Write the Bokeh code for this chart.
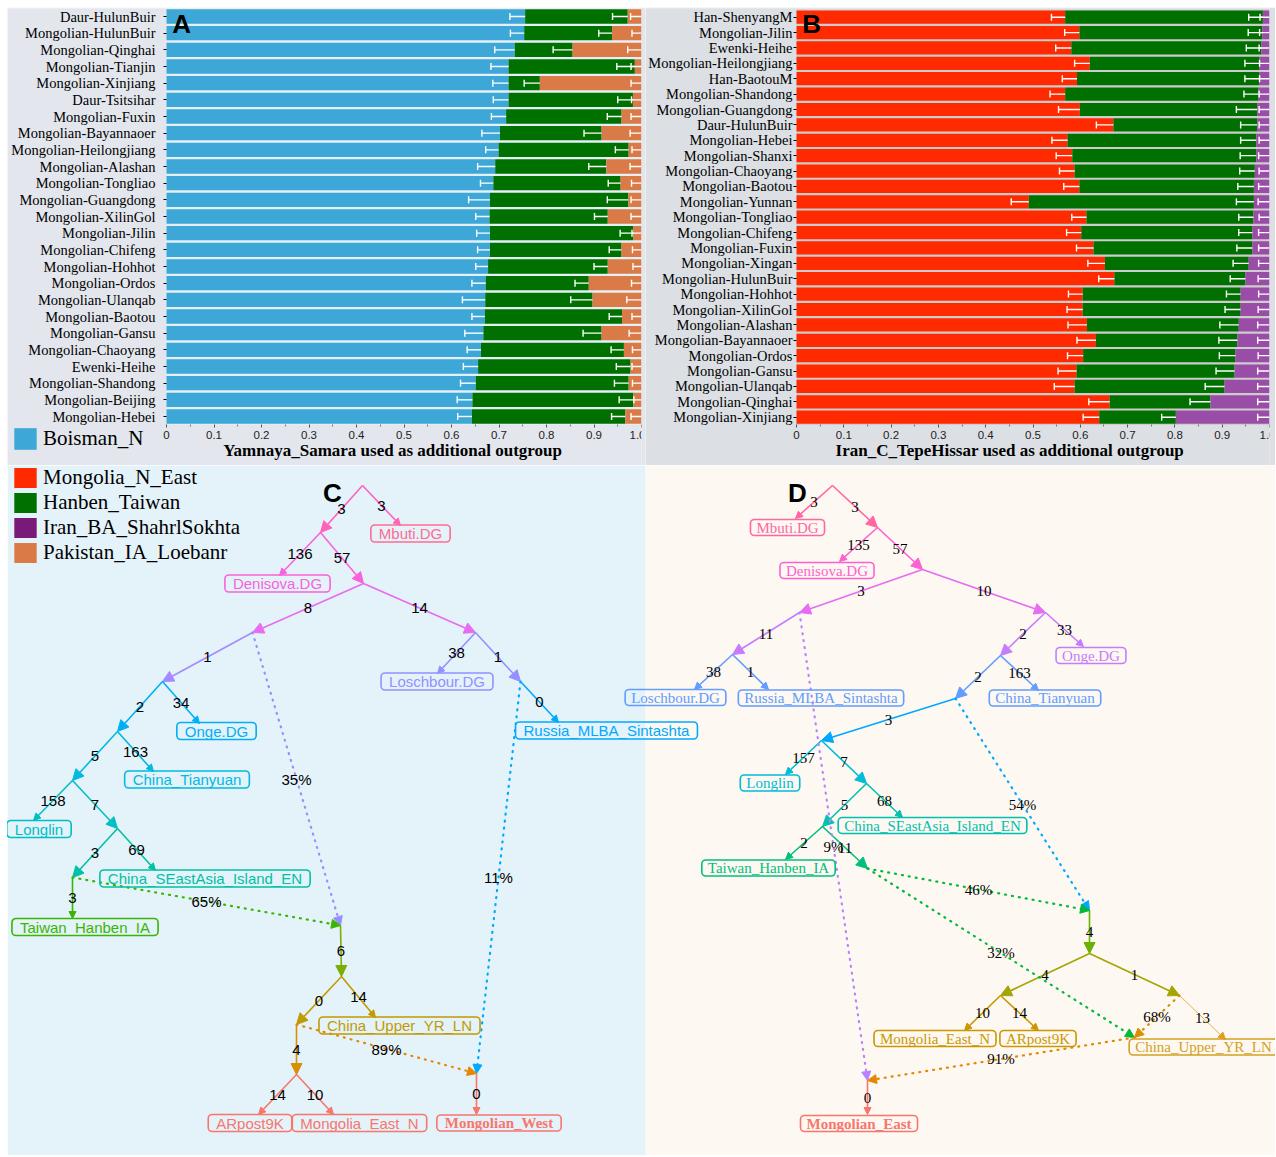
import numpy as np
from bokeh.plotting import figure
from bokeh.models import (ColumnDataSource, Range1d, FixedTicker, Legend,
                          LegendItem, Label, Arrow, NormalHead)
from bokeh.layouts import column, row
from bokeh.embed import file_html
from bokeh.resources import INLINE
from bokeh.core.properties import value

# ---------------- Panel A data (Yamnaya_Samara as extra outgroup) ----------------
popsA = ["Daur-HulunBuir", "Mongolian-HulunBuir", "Mongolian-Qinghai", "Mongolian-Tianjin",
         "Mongolian-Xinjiang", "Daur-Tsitsihar", "Mongolian-Fuxin", "Mongolian-Bayannaoer",
         "Mongolian-Heilongjiang", "Mongolian-Alashan", "Mongolian-Tongliao", "Mongolian-Guangdong",
         "Mongolian-XilinGol", "Mongolian-Jilin", "Mongolian-Chifeng", "Mongolian-Hohhot",
         "Mongolian-Ordos", "Mongolian-Ulanqab", "Mongolian-Baotou", "Mongolian-Gansu",
         "Mongolian-Chaoyang", "Ewenki-Heihe", "Mongolian-Shandong", "Mongolian-Beijing",
         "Mongolian-Hebei"]
boismanA = [0.755, 0.753, 0.733, 0.720, 0.720, 0.720, 0.715, 0.702, 0.699, 0.692, 0.688, 0.681,
            0.680, 0.681, 0.681, 0.677, 0.672, 0.671, 0.670, 0.667, 0.662, 0.656, 0.651, 0.644, 0.643]
hanbenA = [0.216, 0.185, 0.122, 0.266, 0.066, 0.262, 0.243, 0.214, 0.274, 0.234, 0.268, 0.291,
           0.249, 0.302, 0.277, 0.252, 0.217, 0.226, 0.289, 0.249, 0.301, 0.321, 0.322, 0.339, 0.323]
pakistanA = [0.029, 0.062, 0.145, 0.014, 0.214, 0.018, 0.042, 0.084, 0.027, 0.074, 0.044, 0.028,
             0.071, 0.017, 0.042, 0.071, 0.111, 0.103, 0.041, 0.084, 0.037, 0.023, 0.027, 0.017, 0.034]
seA1 = [0.032, 0.029, 0.042, 0.037, 0.033, 0.032, 0.031, 0.038, 0.027, 0.037, 0.027, 0.045, 0.029,
        0.028, 0.026, 0.026, 0.029, 0.048, 0.027, 0.039, 0.029, 0.031, 0.032, 0.032, 0.030]
seA2 = [0.032, 0.028, 0.041, 0.038, 0.033, 0.032, 0.030, 0.037, 0.028, 0.037, 0.026, 0.044, 0.028,
        0.028, 0.026, 0.029, 0.029, 0.046, 0.027, 0.039, 0.027, 0.030, 0.030, 0.030, 0.029]
seA3 = [0.023, 0.020, 0.029, 0.022, 0.022, 0.021, 0.022, 0.024, 0.020, 0.024, 0.021, 0.022, 0.022,
        0.020, 0.019, 0.018, 0.021, 0.031, 0.020, 0.026, 0.019, 0.020, 0.019, 0.016, 0.022]

# ---------------- Panel B data (Iran_C_TepeHissar as extra outgroup) ----------------
popsB = ["Han-ShenyangM", "Mongolian-Jilin", "Ewenki-Heihe", "Mongolian-Heilongjiang", "Han-BaotouM",
         "Mongolian-Shandong", "Mongolian-Guangdong", "Daur-HulunBuir", "Mongolian-Hebei",
         "Mongolian-Shanxi", "Mongolian-Chaoyang", "Mongolian-Baotou", "Mongolian-Yunnan",
         "Mongolian-Tongliao", "Mongolian-Chifeng", "Mongolian-Fuxin", "Mongolian-Xingan",
         "Mongolian-HulunBuir", "Mongolian-Hohhot", "Mongolian-XilinGol", "Mongolian-Alashan",
         "Mongolian-Bayannaoer", "Mongolian-Ordos", "Mongolian-Gansu", "Mongolian-Ulanqab",
         "Mongolian-Qinghai", "Mongolian-Xinjiang"]
mongoliaB = [0.568, 0.598, 0.581, 0.620, 0.593, 0.568, 0.599, 0.670, 0.573, 0.583, 0.588, 0.598, 0.491,
             0.613, 0.602, 0.628, 0.652, 0.672, 0.605, 0.605, 0.614, 0.633, 0.606, 0.592, 0.588, 0.662, 0.640]
hanbenB = [0.418, 0.387, 0.402, 0.359, 0.386, 0.409, 0.375, 0.304, 0.399, 0.389, 0.381, 0.369, 0.476,
           0.353, 0.362, 0.336, 0.304, 0.277, 0.334, 0.334, 0.321, 0.299, 0.322, 0.334, 0.317, 0.213, 0.162]
iranB = [0.014, 0.015, 0.017, 0.021, 0.021, 0.023, 0.026, 0.026, 0.028, 0.028, 0.031, 0.033, 0.033,
         0.034, 0.036, 0.036, 0.044, 0.051, 0.061, 0.061, 0.065, 0.068, 0.072, 0.074, 0.095, 0.125, 0.198]
seB1 = [0.029, 0.031, 0.033, 0.032, 0.031, 0.032, 0.045, 0.036, 0.033, 0.034, 0.032, 0.033, 0.037,
        0.031, 0.031, 0.036, 0.036, 0.033, 0.030, 0.033, 0.040, 0.040, 0.033, 0.039, 0.043, 0.044, 0.034]
seB2 = [0.030, 0.030, 0.032, 0.031, 0.031, 0.031, 0.044, 0.035, 0.033, 0.034, 0.032, 0.034, 0.037,
        0.031, 0.029, 0.033, 0.033, 0.032, 0.030, 0.033, 0.040, 0.039, 0.034, 0.039, 0.041, 0.043, 0.030]
seB3 = [0.020, 0.021, 0.022, 0.021, 0.021, 0.022, 0.022, 0.022, 0.022, 0.023, 0.022, 0.023, 0.024,
        0.022, 0.023, 0.023, 0.023, 0.024, 0.023, 0.024, 0.025, 0.025, 0.024, 0.025, 0.025, 0.025, 0.025]

sources = ["Boisman_N", "Mongolia_N_East", "Hanben_Taiwan", "Iran_BA_ShahrlSokhta", "Pakistan_IA_Loebanr"]
titleA = "Yamnaya_Samara used as additional outgroup"
titleB = "Iran_C_TepeHissar used as additional outgroup"
x_ticks = [0, 0.1, 0.2, 0.3, 0.4, 0.5, 0.6, 0.7, 0.8, 0.9, 1.0]
x_minor = [0.05, 0.15, 0.25, 0.35, 0.45, 0.55, 0.65, 0.75, 0.85, 0.95]

# ---------------- qpGraph data ----------------
edgesC = [("R", "Mbuti.DG", 3), ("R", "N1", 3), ("N1", "Denisova.DG", 136), ("N1", "N2", 57),
          ("N2", "N3", 8), ("N2", "N4", 14), ("N4", "Loschbour.DG", 38), ("N4", "N5", 1),
          ("N5", "Russia_MLBA_Sintashta", 0), ("N3", "N6", 1), ("N6", "N7", 2), ("N6", "Onge.DG", 34),
          ("N7", "N8", 5), ("N7", "China_Tianyuan", 163), ("N8", "Longlin", 158), ("N8", "N9", 7),
          ("N9", "N10", 3), ("N9", "China_SEastAsia_Island_EN", 69), ("N10", "Taiwan_Hanben_IA", 3),
          ("A1", "A2", 6), ("A2", "A3", 0), ("A2", "China_Upper_YR_LN", 14), ("A3", "A4", 4),
          ("A4", "ARpost9K", 14), ("A4", "Mongolia_East_N", 10), ("MW", "Mongolian_West", 0)]
admixC = [("N3", "A1", "35%"), ("N10", "A1", "65%"), ("N5", "MW", "11%"), ("A3", "MW", "89%")]

edgesD = [("R", "Mbuti.DG", 3), ("R", "N1", 3), ("N1", "Denisova.DG", 135), ("N1", "N2", 57),
          ("N2", "N3", 3), ("N2", "N4", 10), ("N3", "N5", 11), ("N5", "Loschbour.DG", 38),
          ("N5", "Russia_MLBA_Sintashta", 1), ("N4", "Onge.DG", 33), ("N4", "N6", 2),
          ("N6", "China_Tianyuan", 163), ("N6", "N7", 2), ("N7", "N8", 3), ("N8", "Longlin", 157),
          ("N8", "N9", 7), ("N9", "China_SEastAsia_Island_EN", 68), ("N9", "N10", 5),
          ("N10", "Taiwan_Hanben_IA", 2), ("N10", "N11", 11), ("A1", "A2", 4), ("A2", "A3", 4),
          ("A2", "A4", 1), ("A3", "Mongolia_East_N", 10), ("A3", "ARpost9K", 14),
          ("A4", "China_Upper_YR_LN", 13), ("ME", "Mongolian_East", 0)]
admixD = [("N3", "ME", "9%"), ("N7", "A1", "54%"), ("N11", "A1", "46%"), ("N11", "A5", "32%"),
          ("A4", "A5", "68%"), ("A5", "ME", "91%")]
target_labels = ["Mongolian_West", "Mongolian_East"]

# ---------------- layout (page-pixel coordinates of the graph drawing) ----------------
posC = {"R": (362, 485), "N1": (320, 532), "N2": (363, 583), "N3": (252, 632), "N4": (475, 632),
        "N5": (520, 681), "N6": (162, 681), "N7": (117, 731), "N8": (72, 780), "N9": (117, 828),
        "N10": (72, 877), "A1": (340, 925), "A2": (341, 976), "A3": (296, 1024), "A4": (296, 1074),
        "MW": (476, 1073),
        "Mbuti.DG": (400, 525), "Denisova.DG": (279, 575), "Loschbour.DG": (437, 673),
        "Russia_MLBA_Sintashta": (558, 722), "Onge.DG": (199, 723), "China_Tianyuan": (153, 771),
        "Longlin": (33, 820), "China_SEastAsia_Island_EN": (155, 870), "Taiwan_Hanben_IA": (72, 918),
        "China_Upper_YR_LN": (375, 1017), "ARpost9K": (258, 1114), "Mongolia_East_N": (333, 1114),
        "Mongolian_West": (476, 1114)}
labC = {"Mbuti.DG": (410, 533), "Denisova.DG": (277, 583), "Loschbour.DG": (436.5, 681),
        "Russia_MLBA_Sintashta": (606, 730), "Onge.DG": (216, 730.5), "China_Tianyuan": (186.5, 779),
        "Longlin": (38.5, 828.5), "China_SEastAsia_Island_EN": (204.5, 878),
        "Taiwan_Hanben_IA": (84.5, 926.5), "China_Upper_YR_LN": (399, 1025),
        "ARpost9K": (249.5, 1122.5), "Mongolia_East_N": (359, 1122.5), "Mongolian_West": (498.5, 1122.5)}
colC = {"R": "#FF62BC", "N1": "#FA62DB", "N2": "#E76BF3", "N3": "#A58AFF", "N4": "#9590FF",
        "N5": "#00A9FF", "N6": "#00B0F6", "N7": "#00BAE0", "N8": "#00BFC4", "N9": "#00C1A3",
        "N10": "#39B600", "A1": "#7CAE00", "A2": "#C09B00", "A3": "#D89000", "A4": "#F8766D",
        "MW": "#F8766D",
        "Mbuti.DG": "#FF6C91", "Denisova.DG": "#FA62DB", "Loschbour.DG": "#9590FF",
        "Russia_MLBA_Sintashta": "#00A9FF", "Onge.DG": "#00B0F6", "China_Tianyuan": "#00BAE0",
        "Longlin": "#00BFC4", "China_SEastAsia_Island_EN": "#00C1A3", "Taiwan_Hanben_IA": "#39B600",
        "China_Upper_YR_LN": "#C09B00", "ARpost9K": "#F8766D", "Mongolia_East_N": "#F8766D",
        "Mongolian_West": "#F8766D"}
admixColC = {"N3": "#9590FF", "N10": "#39B600", "N5": "#00A9FF", "A3": "#E58700"}

posD = {"R": (832, 485), "N1": (877, 527), "N2": (922, 569), "N3": (799, 612), "N4": (1045, 612),
        "N5": (732, 654), "N6": (1000, 655), "N7": (955, 698), "N8": (821, 740), "N9": (866, 783),
        "N10": (822, 826), "N11": (867, 868), "A1": (1089, 910), "A2": (1089, 953), "A3": (1000, 995),
        "A4": (1179, 995), "A5": (1134, 1037), "ME": (867, 1080),
        "Mbuti.DG": (795, 518), "Denisova.DG": (839, 561), "Loschbour.DG": (694, 689),
        "Russia_MLBA_Sintashta": (768, 689), "Onge.DG": (1083, 646), "China_Tianyuan": (1038, 690),
        "Longlin": (785, 774), "China_SEastAsia_Island_EN": (902, 817), "Taiwan_Hanben_IA": (785, 859),
        "Mongolia_East_N": (964, 1030), "ARpost9K": (1038, 1030), "China_Upper_YR_LN": (1225, 1039),
        "Mongolian_East": (867, 1114)}
labD = {"Mbuti.DG": (787, 527), "Denisova.DG": (826.5, 570), "Loschbour.DG": (675, 697),
        "Russia_MLBA_Sintashta": (820.5, 697.5), "Onge.DG": (1090.5, 655), "China_Tianyuan": (1044.5, 697.5),
        "Longlin": (769.5, 782.5), "China_SEastAsia_Island_EN": (932, 825), "Taiwan_Hanben_IA": (768, 867.5),
        "Mongolia_East_N": (934.5, 1038), "ARpost9K": (1037.5, 1038), "China_Upper_YR_LN": (1203, 1046.5),
        "Mongolian_East": (858.5, 1123)}
colD = {"R": "#FF67A4", "N1": "#FD61D1", "N2": "#E76BF3", "N3": "#C77CFF", "N4": "#C77CFF",
        "N5": "#619CFF", "N6": "#619CFF", "N7": "#00A9FF", "N8": "#00BCD8", "N9": "#00C0AF",
        "N10": "#00BF7D", "N11": "#00BA38", "A1": "#6BB100", "A2": "#A3A500", "A3": "#C99800",
        "A4": "#DDA020", "A5": "#E58700", "ME": "#F8766D",
        "Mbuti.DG": "#FF67A4", "Denisova.DG": "#FD61D1", "Loschbour.DG": "#619CFF",
        "Russia_MLBA_Sintashta": "#619CFF", "Onge.DG": "#C77CFF", "China_Tianyuan": "#619CFF",
        "Longlin": "#00BCD8", "China_SEastAsia_Island_EN": "#00C0AF", "Taiwan_Hanben_IA": "#00BF7D",
        "Mongolia_East_N": "#C99800", "ARpost9K": "#C99800", "China_Upper_YR_LN": "#D4A020",
        "Mongolian_East": "#F8766D"}
admixColD = {"N3": "#B983FF", "N7": "#00A9FF", "N11": "#00BA38", "A4": "#DB8E00", "A5": "#E58700"}

BAR_COLORS = {"Boisman_N": "#3DA8D8", "Mongolia_N_East": "#FF2A00", "Hanben_Taiwan": "#007000",
              "Iran_BA_ShahrlSokhta": "#9A4DA6", "Pakistan_IA_Loebanr": "#DA7B47"}
LEG_COLORS = {"Boisman_N": "#3DA8D8", "Mongolia_N_East": "#FF2A00", "Hanben_Taiwan": "#007000",
              "Iran_BA_ShahrlSokhta": "#7A1A78", "Pakistan_IA_Loebanr": "#DA7B47"}

# page geometry
X_LEFT, X_MID, X_RIGHT = 7, 645, 1275
Y_PAGE_TOP, Y_TOP, Y_BOT = 7, 465, 1155
H_TOP, H_BOT = Y_TOP - Y_PAGE_TOP, Y_BOT - Y_TOP
FRAME_TOP = Y_PAGE_TOP + 1


def style_legend(leg, h):
    leg.label_text_font = "Liberation Serif"
    leg.label_text_font_size = "21px"
    leg.label_text_color = "black"
    leg.glyph_width = 28
    leg.glyph_height = h
    leg.label_height = h
    leg.label_standoff = 4
    leg.spacing = 0
    leg.padding = 0
    leg.margin = 0
    leg.background_fill_alpha = 0
    leg.border_line_alpha = 0


def bar_panel(pops, parts, names, ses, x0, x1, right_pad, bar_left, first_center, pitch, title,
              title_x, bg, gap_bg, letter, standoff):
    n = len(pops)
    width = x1 - x0
    scale = (x1 - right_pad) - bar_left
    xs = -(bar_left - x0) / scale
    y_end = -(first_center - FRAME_TOP) / pitch
    y_start = y_end + (Y_TOP - FRAME_TOP) / pitch
    ypos = list(range(n))
    data = {"y": ypos}
    for nm, v in zip(names, parts):
        data[nm] = v
    src = ColumnDataSource(data)
    p = figure(width=width, height=H_TOP, x_range=Range1d(xs, 1.0), y_range=Range1d(y_start, y_end),
               output_backend="svg", toolbar_location=None,
               min_border_left=0, min_border_right=right_pad, min_border_top=1, min_border_bottom=0)
    p.quad(left=[0], right=[1.0], top=[-0.5], bottom=[n - 0.5], fill_color=gap_bg, line_color=None)
    rs = p.hbar_stack(names, y="y", height=0.86, color=[BAR_COLORS[k] for k in names],
                      line_color=None, source=src)
    cum = np.cumsum(np.array(parts), axis=0)
    for k in range(3):
        hi = cum[k]
        lo = hi - np.array(ses[k])
        p.segment(x0=lo, y0=ypos, x1=hi, y1=ypos, line_color="white", line_width=1.4)
        p.scatter(x=lo, y=ypos, marker="dash", angle=np.pi / 2, size=7,
                  line_color="white", line_width=1.4)
    p.xgrid.visible = False
    p.ygrid.visible = False
    p.outline_line_color = None
    p.background_fill_color = bg
    p.border_fill_color = bg

    xa = p.xaxis[0]
    xa.fixed_location = n - 0.5
    xa.ticker = FixedTicker(ticks=x_ticks, minor_ticks=x_minor)
    xa.major_label_overrides = {0: "0", 1: "1.0"}
    xa.axis_line_color = None
    xa.major_tick_out = 3
    xa.major_tick_in = 0
    xa.minor_tick_out = 2
    xa.minor_tick_in = 0
    xa.major_tick_line_color = "#555555"
    xa.minor_tick_line_color = "#777777"
    xa.major_label_text_font = "Liberation Sans"
    xa.major_label_text_font_size = "11.5px"
    xa.major_label_text_color = "#222222"
    xa.major_label_standoff = 3

    ya = p.yaxis[0]
    ya.fixed_location = 0
    ya.ticker = FixedTicker(ticks=ypos)
    ya.major_label_overrides = {i: nm for i, nm in enumerate(pops)}
    ya.major_label_text_font = "Liberation Serif"
    ya.major_label_text_font_size = "14.5px"
    ya.major_label_text_color = "black"
    ya.axis_line_color = None
    ya.major_tick_out = 3
    ya.major_tick_in = 0
    ya.major_tick_line_color = "black"
    ya.major_label_standoff = standoff

    p.add_layout(Label(x=title_x, y=n - 0.5, y_offset=-26, text=title, text_align="center",
                       text_baseline="middle", text_font="Liberation Serif", text_font_style="bold",
                       text_font_size="17px", text_color="black"))
    p.add_layout(Label(x=0.012, y=y_end, text=letter, text_baseline="top", text_font="Liberation Sans",
                       text_font_style="bold", text_font_size="26px", text_color="black"))
    return p, rs


figA, rsA = bar_panel(popsA, [boismanA, hanbenA, pakistanA],
                      ["Boisman_N", "Hanben_Taiwan", "Pakistan_IA_Loebanr"],
                      [seA1, seA2, seA3], X_LEFT, X_MID, 4, 166, 16.0, 400 / 24, titleA, 0.476,
                      "#E3E7ED", "#E4EFF6", "A", 8)
figB, rsB = bar_panel(popsB, [mongoliaB, hanbenB, iranB],
                      ["Mongolia_N_East", "Hanben_Taiwan", "Iran_BA_ShahrlSokhta"],
                      [seB1, seB2, seB3], X_MID, X_RIGHT, 6, 796, 16.7, 400 / 26, titleB, 0.451,
                      "#DCE0E4", "#CDCDCD", "B", 1)

# Boisman_N legend entry sits in the lower-left corner of panel A
legA = Legend(items=[LegendItem(label=sources[0], renderers=[rsA[0]])],
              location=(4, Y_TOP - 452))
style_legend(legA, 27)
figA.add_layout(legA)


def draw_graph(p, pos, lab, col, admix_col, edges, admix, font, pad, letter, letter_xy, thin=()):
    mx, my, wt = [], [], []
    for par, ch, w in edges:
        c = col[par]
        (xs, ys), (xe, ye) = pos[par], pos[ch]
        leaf = ch in lab
        lw = 0.8 if (par, ch) in thin else 1.6
        p.add_layout(Arrow(x_start=xs, y_start=ys, x_end=xe, y_end=ye, line_color=c, line_width=lw,
                           end=NormalHead(size=7 if leaf else 11, fill_color=c, line_color=c,
                                          line_width=1)))
        mx.append((xs + xe) / 2)
        my.append((ys + ye) / 2)
        wt.append(str(w))
    amx, amy, apct = [], [], []
    for src_n, dst_n, pct in admix:
        c = admix_col[src_n]
        (xs, ys), (xe, ye) = pos[src_n], pos[dst_n]
        p.add_layout(Arrow(x_start=xs, y_start=ys, x_end=xe, y_end=ye, line_color=c, line_width=2.2,
                           line_dash="1 6", line_cap="round",
                           end=NormalHead(size=9, fill_color=c, line_color=c, line_width=1)))
        amx.append((xs + xe) / 2)
        amy.append((ys + ye) / 2)
        apct.append(pct)

    p.text(x=mx, y=my, text=wt, text_align="center", text_baseline="middle",
           text_font=value(font), text_font_size="15px", text_color="black", level="overlay")
    p.text(x=amx, y=amy, text=apct, text_align="center", text_baseline="middle",
           text_font=value(font), text_font_size="15px", text_color="black", level="overlay")

    for bold in (False, True):
        names = [k for k in lab if (k in target_labels) == bold]
        ls = ColumnDataSource(dict(x=[lab[k][0] for k in names], y=[lab[k][1] for k in names],
                                   t=names, c=[col[k] for k in names]))
        p.text(x="x", y="y", text="t", source=ls, text_align="center", text_baseline="middle",
               text_font=value("Liberation Serif" if bold else font),
               text_font_style="bold" if bold else "normal",
               text_font_size="15px", text_color="c", border_line_color="c", border_line_width=1.6,
               padding=(pad, 0), border_radius=4, level="overlay")

    p.add_layout(Label(x=letter_xy[0], y=letter_xy[1], text=letter, text_align="center",
                       text_baseline="middle", text_font="Liberation Sans", text_font_style="bold",
                       text_font_size="26px", text_color="black"))


figG = figure(width=X_RIGHT - X_LEFT, height=H_BOT, x_range=Range1d(X_LEFT, X_RIGHT),
              y_range=Range1d(Y_BOT, Y_TOP), output_backend="svg", toolbar_location=None,
              x_axis_location=None, y_axis_location=None, min_border=0)
figG.grid.visible = False
figG.outline_line_color = None
figG.background_fill_color = "white"
figG.border_fill_color = "white"
figG.quad(left=[X_LEFT, X_MID], right=[X_MID, X_RIGHT], top=[Y_TOP, Y_TOP], bottom=[Y_BOT, Y_BOT],
          fill_color=["#E4F2FA", "#FDF8F1"], line_color=None)

draw_graph(figG, posC, labC, colC, admixColC, edgesC, admixC, "Liberation Sans", 8, "C", (332, 492))
draw_graph(figG, posD, labD, colD, admixColD, edgesD, admixD, "Liberation Serif", 6, "D", (797, 492),
           thin=(("A4", "China_Upper_YR_LN"),))

# remaining legend entries, in the upper-left corner of panel C
items = []
for nm in sources[1:]:
    r = figG.rect(x=[-1000], y=[-1000], width=1, height=1, fill_color=LEG_COLORS[nm], line_color=None)
    items.append(LegendItem(label=nm, renderers=[r]))
legG = Legend(items=items, location=(4, H_BOT - 25 * len(items)))
style_legend(legG, 25)
figG.add_layout(legG)

layout = column(row(figA, figB), figG, margin=(Y_PAGE_TOP, 0, 0, X_LEFT))
open("out.html", "w").write(file_html(layout, INLINE))
